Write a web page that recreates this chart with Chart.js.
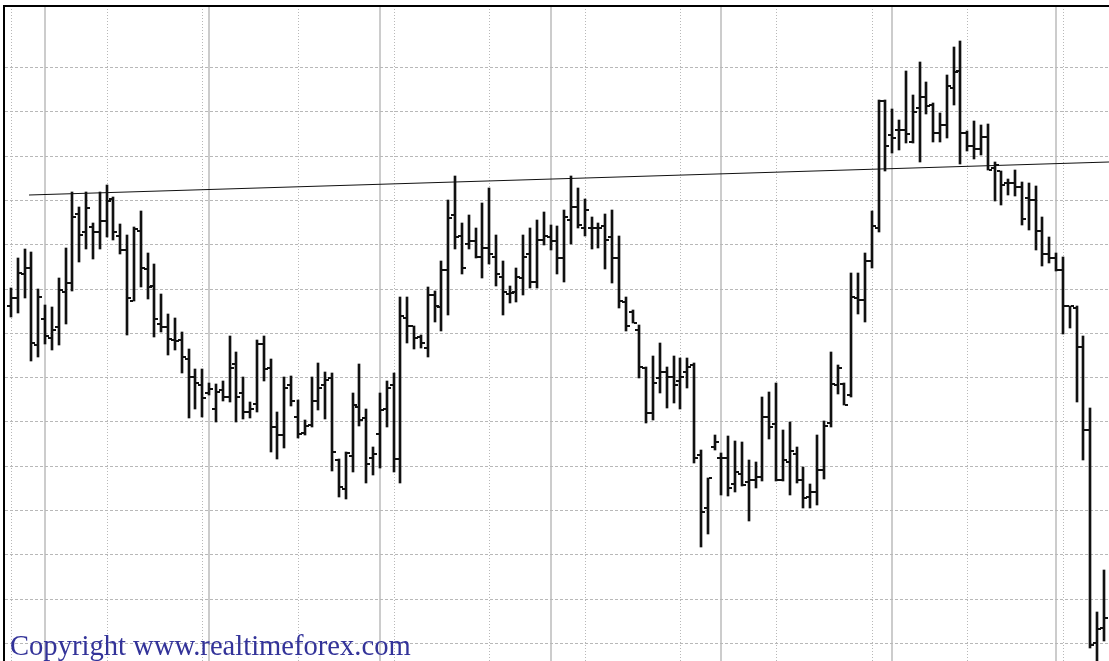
<!DOCTYPE html>
<html><head><meta charset="utf-8">
<script src="https://cdn.jsdelivr.net/npm/chart.js@4.4.1/dist/chart.umd.min.js"></script>
<style>
html,body{margin:0;padding:0;background:#fff;overflow:hidden;}
#wrap{position:relative;width:1109px;height:661px;}
#copy{position:absolute;left:10px;top:631px;font-family:"Liberation Serif","Times New Roman",serif;font-size:28.6px;line-height:29px;color:#333399;white-space:nowrap;}
</style></head><body>
<div id="wrap"><canvas id="c" width="1109" height="661"></canvas><div id="copy">Copyright www.realtimeforex.com</div></div>
<script>
const highs = [1.3501,1.3535,1.3545,1.3541,1.3500,1.3482,1.3479,1.3512,1.3546,1.3609,
1.3592,1.3609,1.3574,1.3609,1.3617,1.3603,1.3573,1.3561,1.3570,1.3588,
1.3540,1.3528,1.3494,1.3471,1.3467,1.3451,1.3432,1.3409,1.3409,1.3393,
1.3392,1.3396,1.3447,1.3428,1.3400,1.3372,1.3442,1.3447,1.3421,1.3361,
1.3400,1.3401,1.3374,1.3352,1.3400,1.3416,1.3406,1.3405,1.3308,1.3316,
1.3382,1.3415,1.3364,1.3321,1.3382,1.3396,1.3405,1.3491,1.3491,1.3458,
1.3448,1.3502,1.3497,1.3531,1.3600,1.3627,1.3574,1.3583,1.3568,1.3597,
1.3614,1.3561,1.3531,1.3503,1.3523,1.3561,1.3568,1.3577,1.3586,1.3572,
1.3571,1.3589,1.3627,1.3614,1.3601,1.3581,1.3574,1.3584,1.3589,1.3559,
1.3491,1.3476,1.3459,1.3412,1.3424,1.3439,1.3412,1.3424,1.3422,1.3422,
1.3416,1.3318,1.3286,1.3335,1.3314,1.3334,1.3328,1.3327,1.3307,1.3304,
1.3378,1.3383,1.3393,1.3340,1.3349,1.3321,1.3299,1.3279,1.3335,1.3351,
1.3428,1.3414,1.3393,1.3518,1.3518,1.3540,1.3588,1.3713,1.3713,1.3703,
1.3690,1.3746,1.3719,1.3756,1.3733,1.3710,1.3698,1.3741,1.3773,1.3779,
1.3678,1.3689,1.3685,1.3686,1.3643,1.3633,1.3624,1.3634,1.3620,1.3619,
1.3616,1.3581,1.3558,1.3540,1.3536,1.3480,1.3480,1.3447,1.3365,1.3135,
1.3182];
const lows = [1.3468,1.3472,1.3489,1.3418,1.3423,1.3437,1.3431,1.3436,1.3460,1.3497,
1.3530,1.3545,1.3533,1.3545,1.3558,1.3555,1.3539,1.3448,1.3486,1.3502,
1.3488,1.3445,1.3451,1.3425,1.3431,1.3405,1.3354,1.3364,1.3355,1.3380,
1.3349,1.3373,1.3372,1.3349,1.3353,1.3354,1.3361,1.3396,1.3316,1.3308,
1.3320,1.3368,1.3331,1.3335,1.3344,1.3363,1.3353,1.3294,1.3265,1.3263,
1.3293,1.3345,1.3281,1.3290,1.3298,1.3344,1.3293,1.3281,1.3439,1.3432,
1.3433,1.3423,1.3462,1.3452,1.3470,1.3545,1.3516,1.3545,1.3535,1.3512,
1.3528,1.3503,1.3470,1.3484,1.3485,1.3493,1.3501,1.3501,1.3549,1.3544,
1.3516,1.3507,1.3550,1.3568,1.3559,1.3545,1.3546,1.3522,1.3506,1.3478,
1.3452,1.3461,1.3399,1.3348,1.3352,1.3382,1.3365,1.3371,1.3364,1.3388,
1.3303,1.3208,1.3223,1.3318,1.3267,1.3266,1.3270,1.3277,1.3238,1.3275,
1.3283,1.3330,1.3283,1.3283,1.3267,1.3281,1.3252,1.3252,1.3256,1.3285,
1.3344,1.3381,1.3369,1.3378,1.3471,1.3462,1.3523,1.3564,1.3633,1.3653,
1.3656,1.3664,1.3664,1.3643,1.3697,1.3665,1.3665,1.3670,1.3707,1.3641,
1.3655,1.3646,1.3651,1.3634,1.3599,1.3594,1.3606,1.3605,1.3572,1.3566,
1.3544,1.3526,1.3529,1.3520,1.3449,1.3456,1.3372,1.3307,1.3094,1.3064,
1.3102];
const opens = [1.3480,1.3489,1.3516,1.3523,1.3436,1.3466,1.3444,1.3457,1.3496,1.3506,
1.3584,1.3564,1.3570,1.3564,1.3576,1.3601,1.3559,1.3544,1.3486,1.3565,
1.3522,1.3503,1.3460,1.3457,1.3442,1.3442,1.3421,1.3400,1.3391,1.3382,
1.3364,1.3386,1.3378,1.3415,1.3382,1.3361,1.3370,1.3437,1.3410,1.3344,
1.3335,1.3391,1.3355,1.3337,1.3346,1.3373,1.3391,1.3399,1.3307,1.3274,
1.3311,1.3366,1.3354,1.3309,1.3336,1.3364,1.3391,1.3308,1.3467,1.3458,
1.3445,1.3433,1.3493,1.3479,1.3521,1.3583,1.3559,1.3550,1.3554,1.3536,
1.3546,1.3536,1.3513,1.3494,1.3496,1.3512,1.3539,1.3507,1.3555,1.3558,
1.3554,1.3535,1.3577,1.3592,1.3568,1.3568,1.3568,1.3571,1.3558,1.3535,
1.3485,1.3474,1.3453,1.3410,1.3360,1.3399,1.3406,1.3400,1.3396,1.3406,
1.3414,1.3312,1.3252,1.3321,1.3309,1.3309,1.3279,1.3291,1.3282,1.3284,
1.3287,1.3355,1.3347,1.3284,1.3304,1.3313,1.3284,1.3265,1.3270,1.3295,
1.3348,1.3391,1.3392,1.3380,1.3489,1.3487,1.3531,1.3568,1.3712,1.3673,
1.3679,1.3679,1.3665,1.3704,1.3716,1.3707,1.3676,1.3685,1.3726,1.3746,
1.3676,1.3661,1.3658,1.3671,1.3636,1.3633,1.3619,1.3619,1.3615,1.3602,
1.3600,1.3565,1.3539,1.3535,1.3521,1.3480,1.3478,1.3434,1.3340,1.3100,
1.3117];
const closes = [1.3489,1.3518,1.3523,1.3439,1.3491,1.3447,1.3453,1.3498,1.3506,1.3581,
1.3561,1.3591,1.3564,1.3576,1.3599,1.3564,1.3544,1.3489,1.3567,1.3523,
1.3502,1.3466,1.3457,1.3443,1.3441,1.3423,1.3400,1.3393,1.3377,1.3387,
1.3383,1.3378,1.3410,1.3378,1.3361,1.3364,1.3437,1.3409,1.3344,1.3335,
1.3388,1.3373,1.3336,1.3345,1.3373,1.3388,1.3397,1.3316,1.3276,1.3314,
1.3369,1.3352,1.3302,1.3313,1.3363,1.3388,1.3308,1.3469,1.3458,1.3444,
1.3439,1.3493,1.3480,1.3521,1.3580,1.3558,1.3523,1.3554,1.3536,1.3546,
1.3539,1.3516,1.3496,1.3495,1.3513,1.3536,1.3507,1.3555,1.3559,1.3554,
1.3535,1.3581,1.3592,1.3572,1.3589,1.3568,1.3568,1.3555,1.3535,1.3486,
1.3458,1.3461,1.3412,1.3360,1.3393,1.3406,1.3400,1.3391,1.3400,1.3412,
1.3309,1.3248,1.3286,1.3327,1.3309,1.3275,1.3293,1.3278,1.3284,1.3287,
1.3355,1.3344,1.3284,1.3307,1.3317,1.3284,1.3264,1.3270,1.3295,1.3345,
1.3392,1.3410,1.3369,1.3491,1.3487,1.3531,1.3571,1.3712,1.3661,1.3670,
1.3679,1.3675,1.3699,1.3716,1.3706,1.3676,1.3685,1.3729,1.3744,1.3676,
1.3661,1.3658,1.3671,1.3634,1.3640,1.3617,1.3619,1.3615,1.3579,1.3600,
1.3565,1.3539,1.3535,1.3521,1.3480,1.3480,1.3434,1.3340,1.3098,1.3116,
1.3128];
const gridBars = [0,14,28,42,56,70,84,98,112,126,140,154];
const separatorBars = [5,29,54,79,104,129,153];
const priceLevels = [1.3100,1.3150,1.3200,1.3250,1.3300,1.3350,1.3400,1.3450,1.3500,1.3550,1.3600,1.3650,1.3700,1.3750];
const trendX = [2.635, 160.74];
const trendY = [1.3606, 1.3643];

const XMIN = -1.0247, XMAX = 160.74;
const YMIN = 1.307968, YMAX = 1.381896;

function tickImg(side){
  const c = document.createElement('canvas');
  c.width = 8; c.height = 2;
  const g = c.getContext('2d');
  g.fillStyle = '#111';
  if (side === 'L') g.fillRect(0,0,3,2); else g.fillRect(5,0,3,2);
  return c;
}
const openImg = tickImg('L'), closeImg = tickImg('R');
const idx = highs.map((_, i) => i);

const zeroW = s => { s.width = 0; };
const zeroH = s => { s.height = 0; };

new Chart(document.getElementById('c'), {
  type: 'bar',
  data: {
    datasets: [
      { type:'line', data: trendX.map((x,i)=>({x, y:trendY[i]})), borderColor:'#111', borderWidth:1.2, pointRadius:0, fill:false, order:0 },
      { type:'bar', data: idx.map(i=>({x:i, y:[lows[i], highs[i]]})), backgroundColor:'#111', borderWidth:0, barThickness:2, grouped:false, order:1 },
      { type:'line', data: idx.map(i=>({x:i, y:opens[i]})), showLine:false, pointStyle: openImg, pointRadius:4, order:2 },
      { type:'line', data: idx.map(i=>({x:i, y:closes[i]})), showLine:false, pointStyle: closeImg, pointRadius:4, order:3 }
    ]
  },
  options: {
    responsive:false, animation:false,
    layout:{ autoPadding:false, padding:{ left:4, top:6, right:0, bottom:0 } },
    plugins:{ legend:{display:false}, tooltip:{enabled:false} },
    scales:{
      x:{ type:'linear', min:XMIN, max:XMAX, offset:false, position:'bottom', alignToPixels:true,
          ticks:{display:false}, grid:{color:'#b8b8b8', lineWidth:1, drawTicks:false, offset:false},
          border:{display:false, dash:[1,2]},
          afterBuildTicks: s => { s.ticks = gridBars.map(v=>({value:v})); }, afterFit: zeroH },
      x2:{ type:'linear', min:XMIN, max:XMAX, offset:false, position:'top', alignToPixels:true,
          ticks:{display:false}, grid:{color:'#cccccc', lineWidth:2, drawTicks:false, offset:false},
          border:{display:true, color:'#000', width:2},
          afterBuildTicks: s => { s.ticks = separatorBars.map(v=>({value:v})); }, afterFit: zeroH },
      y:{ type:'linear', min:YMIN, max:YMAX, position:'left', alignToPixels:true,
          ticks:{display:false}, grid:{color:'#b8b8b8', lineWidth:1, drawTicks:false},
          border:{display:true, color:'#000', width:2, dash:[3,2]},
          afterBuildTicks: s => { s.ticks = priceLevels.map(v=>({value:v})); }, afterFit: zeroW }
    }
  }
});
</script>
</body></html>
